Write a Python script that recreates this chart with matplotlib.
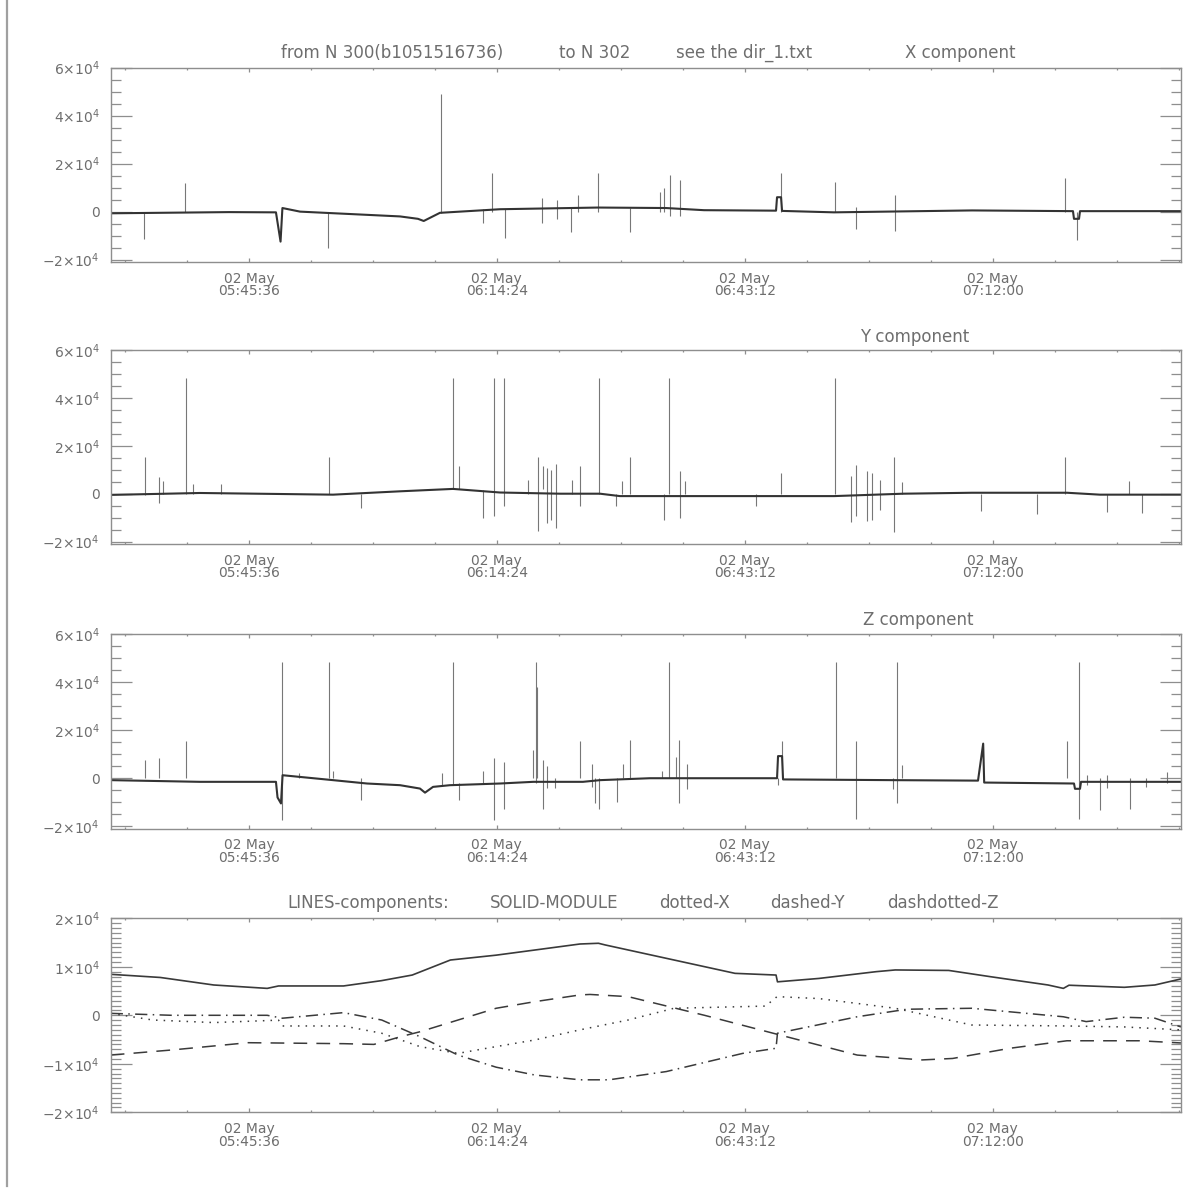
import numpy as np
import matplotlib
matplotlib.use("Agg")
import matplotlib.pyplot as plt
from matplotlib.lines import Line2D

DAY = "2003-05-02"

# ---------------- X component ----------------
x_base_time = ["05:29:32", "05:43:17", "05:48:44", "05:49:16", "05:49:29", "05:51:32",
               "06:03:09", "06:05:14", "06:05:54", "06:07:47", "06:14:46", "06:26:09",
               "06:34:03", "06:38:28", "06:46:50", "06:46:57", "06:47:25", "06:47:32",
               "06:53:34", "07:09:36", "07:21:20", "07:21:27", "07:22:02", "07:22:09",
               "07:33:53"]
x_base_val = [-700, -200, -300, -12500, 1500, 0,
              -2000, -3000, -3900, -500, 1000, 1700,
              1500, 600, 400, 6000, 6000, 300,
              -300, 500, 200, -3000, -3000, 200,
              200]
x_spike_time = ["05:33:24", "05:38:08", "05:54:47", "06:07:53", "06:12:47", "06:13:50",
                "06:15:18", "06:19:39", "06:21:23", "06:22:58", "06:23:49", "06:26:09",
                "06:29:52", "06:33:21", "06:33:52", "06:34:31", "06:35:38", "06:47:23",
                "06:53:44", "06:56:07", "07:00:41", "07:20:24", "07:21:51"]
x_spike_low = [-11400, 0, -15100, -500, -4600, 0,
               -11000, -4700, -3000, -8700, 0, 0,
               -8300, 0, 0, -2000, -2000, 0,
               0, -7200, -8000, 0, -11800]
x_spike_high = [0, 12000, 0, 49000, 1000, 16100,
                1000, 5700, 5000, 1500, 7000, 16000,
                1500, 8000, 9900, 15300, 13200, 16000,
                12500, 2000, 7000, 13900, 0]

# ---------------- Y component ----------------
y_base_time = ["05:29:32", "05:39:54", "05:55:22", "06:03:09", "06:09:18", "06:14:46",
               "06:21:44", "06:26:23", "06:28:42", "06:53:34", "07:01:35", "07:09:36",
               "07:20:38", "07:24:28", "07:33:53"]
y_base_val = [-500, 300, -400, 1000, 2000, 500,
              0, 0, -1000, -1000, 0, 400,
              400, -400, -400]
y_spike_time = ["05:33:33", "05:35:11", "05:35:34", "05:38:17", "05:39:06", "05:42:21",
                "05:54:52", "05:58:37", "06:09:20", "06:10:02", "06:12:45", "06:14:04",
                "06:15:14", "06:18:03", "06:19:09", "06:19:48", "06:20:11", "06:20:39",
                "06:21:16", "06:23:06", "06:24:03", "06:26:16", "06:28:11", "06:28:59",
                "06:29:50", "06:33:52", "06:34:27", "06:35:38", "06:36:18", "06:44:30",
                "06:47:23", "06:53:44", "06:55:36", "06:56:07", "06:57:22", "06:58:02",
                "06:58:55", "07:00:34", "07:01:29", "07:10:40", "07:17:11", "07:20:26",
                "07:25:19", "07:27:53", "07:29:18"]
y_spike_low = [-500, -3900, -300, 0, 0, 0,
               0, -6000, 2000, 2000, -10100, -9400,
               -5300, 0, -15700, 2000, -12200, -10800,
               -14300, 0, -5000, 0, -5300, 0,
               0, -10800, 0, -10100, 0, -5300,
               0, 0, -12000, -9400, -11200, -10800,
               -6600, -16100, 0, -7400, -8400, 0,
               -7800, 0, -8000]
y_spike_high = [15500, 6800, 5100, 48500, 4200, 4200,
                15500, 0, 48500, 11400, 1500, 48500,
                48500, 5800, 15500, 11400, 10900, 10000,
                12400, 5800, 11400, 48500, 0, 5100,
                15500, 0, 48500, 9300, 5100, 0,
                8600, 48500, 7200, 12100, 9300, 8600,
                5800, 15500, 4700, 0, 0, 15500,
                0, 5100, 0]

# ---------------- Z component ----------------
z_base_time = ["05:29:32", "05:39:54", "05:48:44", "05:48:55", "05:49:19", "05:49:30",
               "05:55:22", "05:59:19", "06:03:09", "06:05:28", "06:06:03", "06:06:59",
               "06:08:57", "06:14:46", "06:18:38", "06:24:24", "06:26:23", "06:32:11",
               "06:46:57", "06:47:04", "06:47:32", "06:47:39", "07:00:25", "07:10:18",
               "07:10:54", "07:11:01", "07:21:27", "07:21:34", "07:22:09", "07:22:16",
               "07:33:53"]
z_base_val = [-800, -1500, -1500, -8000, -10500, 1250,
              -800, -2200, -2900, -4300, -6000, -3600,
              -2900, -2200, -1500, -1500, -800, 0,
              0, 9200, 9200, -500, -800, -1000,
              14400, -1800, -2200, -4400, -4400, -1500,
              -1500]
z_spike_time = ["05:33:31", "05:35:11", "05:38:17", "05:49:24", "05:51:27", "05:54:52",
                "05:55:24", "05:58:37", "06:07:59", "06:09:20", "06:10:02", "06:12:49",
                "06:14:04", "06:15:14", "06:18:38", "06:18:57", "06:19:07", "06:19:48",
                "06:20:11", "06:21:09", "06:24:03", "06:25:25", "06:25:48", "06:26:18",
                "06:28:19", "06:29:05", "06:29:52", "06:33:35", "06:34:26", "06:35:13",
                "06:35:36", "06:36:27", "06:47:30", "06:47:04", "06:53:48", "06:56:07",
                "07:00:27", "07:00:51", "07:01:30", "07:20:36", "07:22:00", "07:23:00",
                "07:24:28", "07:25:19", "07:27:57", "07:29:49", "07:32:13"]
z_spike_low = [0, 0, 0, -17200, 0, 0,
               0, -8900, -3000, -2500, -8900, -2000,
               -17200, -12600, 0, -2000, 0, -13000,
               -4000, -4000, 0, -3500, -10500, -13000,
               -9900, 0, 0, 0, 0, 0,
               -10300, -4400, 0, -3000, 0, -16800,
               -4400, -10300, 0, 0, -16800, -3000,
               -13300, -4000, -12900, -3800, -2000]
z_spike_high = [7500, 8500, 15600, 48500, 2000, 48500,
                3000, 0, 2200, 48500, -2000, 3000,
                8500, 6800, 11700, 48500, 38000, 7500,
                5000, 0, 15600, 6100, 0, 0,
                0, 6100, 15800, 3000, 48500, 8900,
                15800, 6100, 15500, 0, 48500, 15500,
                0, 48500, 5400, 15500, 48500, 1500,
                0, 1500, 0, 0, 2500]

# ---------------- smoothed components ----------------
mod_time = ["05:29:32", "05:35:18", "05:41:30", "05:47:43", "05:49:02", "05:56:35",
            "06:01:01", "06:04:34", "06:09:00", "06:14:19", "06:18:46", "06:24:03",
            "06:26:12", "06:27:00", "06:34:05", "06:42:04", "06:46:50", "06:47:00",
            "06:51:49", "06:58:29", "07:00:41", "07:06:54", "07:11:47", "07:18:26",
            "07:20:13", "07:20:52", "07:27:18", "07:30:51", "07:33:53"]
mod_val = [8450, 7800, 6250, 5550, 6050, 6050,
           7150, 8300, 11400, 12400, 13450, 14700,
           14850, 14500, 11750, 8650, 8300, 6900,
           7600, 9000, 9350, 9250, 7950, 6250,
           5550, 6200, 5770, 6250, 7500]

bx_time = ["05:29:32", "05:34:25", "05:41:30", "05:49:02", "05:49:29", "05:56:35",
           "06:01:01", "06:05:27", "06:09:53", "06:14:19", "06:18:46", "06:24:03",
           "06:29:39", "06:34:59", "06:45:37", "06:46:57", "06:51:49", "07:00:41",
           "07:09:34", "07:20:38", "07:27:18", "07:33:53"]
bx_val = [400, -970, -1500, -1000, -2200, -2200,
          -3700, -6450, -7850, -6450, -5100, -3000,
          -970, 1450, 1900, 3850, 3450, 1450,
          -2000, -2200, -2400, -3000]

by_time = ["05:29:32", "05:36:38", "05:45:29", "05:56:35", "06:00:07", "06:03:14",
           "06:05:27", "06:14:19", "06:18:46", "06:24:03", "06:25:13", "06:29:39",
           "06:38:31", "06:46:30", "06:56:16", "07:03:48", "07:07:21", "07:14:00",
           "07:20:38", "07:29:04", "07:33:53"]
by_val = [-8200, -7150, -5650, -5850, -6000, -4400,
          -3400, 1450, 2800, 4200, 4300, 3850,
          0, -3700, -8200, -9200, -8900, -6800,
          -5250, -5250, -5700]

bz_time = ["05:29:32", "05:36:38", "05:47:43", "05:49:29", "05:56:35", "06:01:01",
           "06:05:27", "06:09:53", "06:14:19", "06:18:46", "06:24:03", "06:27:26",
           "06:34:05", "06:42:58", "06:46:50", "06:47:00", "06:56:16", "07:02:02",
           "07:09:34", "07:20:13", "07:22:52", "07:27:18", "07:30:51", "07:33:53"]
bz_val = [400, 0, 0, -600, 550, -970,
          -4400, -8200, -10700, -12300, -13300, -13300,
          -11600, -7850, -6800, -3700, -300, 1250,
          1450, -300, -1300, -400, -600, -2400]

# ---------------- axis labelling ----------------
major_times = ["05:45:36", "06:14:24", "06:43:12", "07:12:00"]
x_range = ["05:29:32", "07:33:53"]
comp_yticks = [-20000, 0, 20000, 40000, 60000]
comp_ylabels = [r"$-2{\times}10^{4}$", "0", r"$2{\times}10^{4}$", r"$4{\times}10^{4}$",
                r"$6{\times}10^{4}$"]
avg_yticks = [-20000, -10000, 0, 10000, 20000]
avg_ylabels = [r"$-2{\times}10^{4}$", r"$-1{\times}10^{4}$", "0", r"$1{\times}10^{4}$",
               r"$2{\times}10^{4}$"]


def ts(hms):
    return np.array([f"{DAY}T{s}" for s in hms], dtype="datetime64[s]")


TEXT = "#6e6e6e"
FRAME = "#8e8e8e"
plt.rcParams["font.family"] = ["DejaVu Sans"]
plt.rcParams["mathtext.fontset"] = "dejavusans"

fig = plt.figure(figsize=(11.91, 11.92), dpi=100)
W, H = 1191.0, 1192.0


def axes_box(top, bottom, left=110.7, right=1181.0):
    return [left / W, 1 - bottom / H, (right - left) / W, (bottom - top) / H]


def style_axes(ax, yticks, ylabels, yminor):
    for sp in ax.spines.values():
        sp.set_color(FRAME)
        sp.set_linewidth(1.0)
    xr = ts(x_range)
    ax.set_xlim(xr[0], xr[1])
    maj = ts(major_times)
    ax.set_xticks(maj)
    labs = ax.set_xticklabels([f"02 May\n{m}" for m in major_times])
    for lab in labs:
        lab.set_linespacing(0.88)
    step = (maj[1] - maj[0]) / 4
    minors = np.arange(maj[0] - 3 * step, xr[1], step)
    minors = minors[(minors > xr[0]) & (minors < xr[1])]
    ax.set_xticks(minors, minor=True)
    ax.set_yticks(yticks)
    ax.set_yticklabels(ylabels)
    ax.yaxis.set_minor_locator(matplotlib.ticker.MultipleLocator(yminor))
    ax.tick_params(which="both", direction="in", top=True, right=True,
                   colors=FRAME, labelcolor=TEXT, labelsize=10, width=0.9)
    ax.tick_params(axis="x", which="major", length=3.0, pad=7)
    ax.tick_params(axis="x", which="minor", length=1.6)
    ax.tick_params(axis="y", which="major", length=15, pad=8)
    ax.tick_params(axis="y", which="minor", length=7.5)


def component_panel(box, bt, bv, st, slo, shi):
    ax = fig.add_axes(box)
    ax.vlines(ts(st), slo, shi, color="#777777", lw=0.8)
    ax.plot(ts(bt), bv, color="#333333", lw=1.5)
    ax.set_ylim(-21000, 60000)
    style_axes(ax, comp_yticks, comp_ylabels, 5000)
    return ax


component_panel(axes_box(67.7, 262.0), x_base_time, x_base_val,
                x_spike_time, x_spike_low, x_spike_high)
component_panel(axes_box(350.0, 544.0), y_base_time, y_base_val,
                y_spike_time, y_spike_low, y_spike_high)
component_panel(axes_box(634.0, 828.7), z_base_time, z_base_val,
                z_spike_time, z_spike_low, z_spike_high)

ax4 = fig.add_axes(axes_box(918.3, 1112.3))
line_col = "#3a3a3a"
ax4.plot(ts(mod_time), mod_val, color=line_col, lw=1.2, linestyle="-")
ax4.plot(ts(bx_time), bx_val, color=line_col, lw=1.1, linestyle=(0, (1.0, 4.0)))
ax4.plot(ts(by_time), by_val, color=line_col, lw=1.1, linestyle=(0, (9.0, 6.0)))
ax4.plot(ts(bz_time), bz_val, color=line_col, lw=1.1, linestyle=(0, (8.0, 3.5, 1.0, 3.5)))
ax4.set_ylim(-20000, 20000)
style_axes(ax4, avg_yticks, avg_ylabels, 1000)


# titles, placed in segments across the top of each panel
def title_piece(s, xc, yc):
    fig.text(xc / W, 1 - yc / H, s, ha="center", va="center", fontsize=12, color=TEXT)


title_piece("from N 300(b1051516736)", 392, 53)
title_piece("to N 302", 594.5, 53)
title_piece("see the dir_1.txt", 744.5, 53)
title_piece("X component", 960.5, 53)
title_piece("Y component", 915, 337)
title_piece("Z component", 918.5, 620)
title_piece("LINES-components:", 368.5, 903)
title_piece("SOLID-MODULE", 554, 903)
title_piece("dotted-X", 694.5, 903)
title_piece("dashed-Y", 807.5, 903)
title_piece("dashdotted-Z", 943, 903)

# page margin rule on the left
fig.add_artist(Line2D([7 / W, 7 / W], [1.0, 1 - 1186 / H], transform=fig.transFigure,
                      color="#a0a0a0", lw=1.6))

fig.savefig("out.png", dpi=100, facecolor="white")
